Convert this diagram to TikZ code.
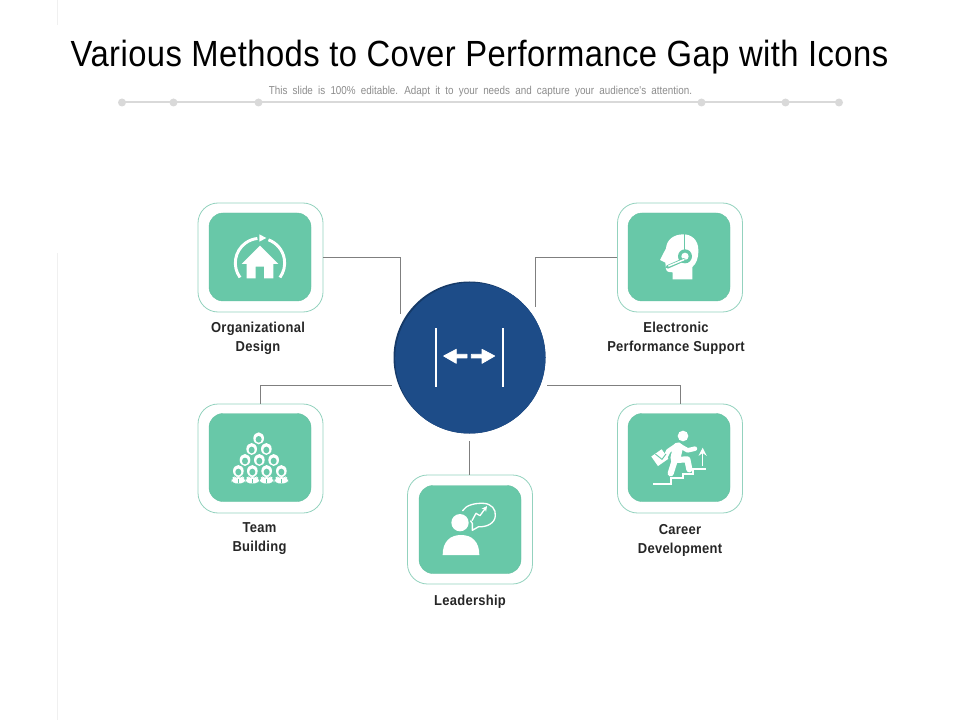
\documentclass[tikz,border=0pt]{standalone}
\usepackage{fontspec}
\setmainfont{Liberation Sans}
\newfontfamily\titlefont[FakeStretch=0.90,LetterSpace=1.2]{Liberation Sans}
\newfontfamily\subfont[FakeStretch=0.86,WordSpace=1.9]{Liberation Sans}
\newfontfamily\labelfont[FakeStretch=0.90,LetterSpace=2]{Liberation Sans}
\usetikzlibrary{arrows.meta}
\definecolor{mint}{HTML}{68C8A8}
\definecolor{mintedge}{HTML}{93D2BE}
\definecolor{navy}{HTML}{1D4C88}
\definecolor{navydark}{HTML}{163A68}
\definecolor{wire}{HTML}{7F7F7F}
\definecolor{rail}{HTML}{D9D9D9}
\definecolor{labelink}{HTML}{262626}
\tikzset{
  outerbox/.style={draw=mintedge,line width=0.6pt,fill=white,rounded corners=15pt,minimum width=93.75pt,minimum height=81.75pt,inner sep=0pt},
  innerbox/.style={draw=mint!96!black,line width=0.3pt,fill=mint,rounded corners=10.5pt,minimum width=76.5pt,minimum height=66pt,inner sep=0pt},
  itemlabel/.style={font=\labelfont\bfseries\fontsize{10.8pt}{14.25pt}\selectfont,text=labelink,align=center,inner sep=0pt},
  wireline/.style={draw=wire,line width=0.6pt},
  raildot/.style={circle,fill=rail,minimum size=6pt,inner sep=0pt},
  iconline/.style={draw=white,line cap=round,line join=round},
}
\begin{document}
\begin{tikzpicture}[x=0.75pt,y=-0.75pt]
\useasboundingbox (0,0) rectangle (960,720);
% faint page rules
\draw[draw=black!6,line width=0.75pt] (57,0) -- (57,25);
\draw[draw=black!6,line width=0.75pt] (57,253) -- (57,720);
% title
\node[font=\titlefont\fontsize{27.3pt}{30pt}\selectfont,text=black,inner sep=0pt] (title) at (479.5,57) {Various Methods to Cover Performance Gap with Icons};
\node[font=\subfont\fontsize{8.6pt}{10pt}\selectfont,text=black!45,inner sep=0pt] (subtitle) at (480.5,92) {This slide is 100\% editable. Adapt it to your needs and capture your audience's attention.};
% rail
\foreach \n/\x in {r1/122,r2/173.5,r3/258.5,r4/701.5,r5/785.5,r6/839}{\node[raildot] (\n) at (\x,102.5) {};}
\draw[rail,line width=1.5pt] (r1.center) -- (r2.center) -- (r3.center) -- (r4.center) -- (r5.center) -- (r6.center);
% free ends of connectors
\coordinate (e1) at (400,314);
\coordinate (e2) at (535.5,307);
\coordinate (e3) at (392,385);
\coordinate (e4) at (547,385);
\coordinate (e5) at (469.5,441);
% boxes
\node[outerbox] (o1) at (260.5,257.5) {};
\node[innerbox] (i1) at (260,257) {};
\node[outerbox] (o2) at (680,257.5) {};
\node[innerbox] (i2) at (679,257) {};
\node[outerbox] (o3) at (260.5,458.5) {};
\node[innerbox] (i3) at (260,457.5) {};
\node[outerbox] (o4) at (680,458.5) {};
\node[innerbox] (i4) at (679,457.5) {};
\node[outerbox] (o5) at (470,529.5) {};
\node[innerbox] (i5) at (470,529.5) {};
% connectors
\draw[wireline] (o1.east) -| (e1);
\draw[wireline] (o2.west) -| (e2);
\draw[wireline] (o3.north) |- (e3);
\draw[wireline] (o4.north) |- (e4);
\draw[wireline] (e5) -- (e5 |- o5.north);
% hub
\node[circle,fill=navydark,minimum size=114pt,inner sep=0pt] (hub) at (469.5,357.5) {};
\begin{scope}
  \clip (469.5,357.5) circle (76);
  \fill[navy] (471.2,358.7) circle (76);
\end{scope}
\begin{scope}[shift={(385,275)},scale=1/3]
  \fill[white] (151,158) rectangle (157,335);
  \fill[white] (350,158) rectangle (356,335);
  \filldraw[white,line width=0.6pt,line join=round] (176,243) -- (214,223) -- (214,238) -- (246,238) -- (246,249) -- (214,249) -- (214,265) -- cycle;
  \filldraw[white,line width=0.6pt,line join=round] (329,243) -- (291,223) -- (291,238) -- (259,238) -- (259,249) -- (291,249) -- (291,265) -- cycle;
\end{scope}
% house icon
\begin{scope}[shift={(190,195)},scale=1/3]
  \draw[iconline,line width=2.2pt,line cap=butt] (150.1,247.5) arc[start angle=144,end angle=264,radius=74];
  \draw[iconline,line width=2.2pt,line cap=butt] (235.3,134.5) arc[start angle=290,end angle=396,radius=74];
  \fill[white] (208,118) -- (208,140) -- (229,129) -- cycle;
  \fill[white] (210,152) -- (265,207) -- (250,207) -- (250,250) -- (222,250) -- (222,215) -- (197,215) -- (197,250) -- (170,250) -- (170,207) -- (155,207) -- cycle;
\end{scope}
% headset icon
\begin{scope}[shift={(530,195)},scale=1/3]
  \fill[white] (460,118) .. controls (430,118) and (410,135) .. (408,160) -- (390,195) -- (406,203) -- (408,222) .. controls (410,232) and (420,232) .. (428,232) -- (428,253) -- (487,253) -- (487,216) .. controls (500,205) and (505,190) .. (505,165) .. controls (505,135) and (485,118) .. (460,118) -- cycle;
  \draw[mint,line width=1.2pt] (464,116) -- (464,168);
  \fill[mint] (465,184) circle (21);
  \fill[white] (465,184) circle (11);
  \draw[mint,line width=2.6pt,line cap=round] (412,216) -- (462,194);
  \draw[white,line width=1.1pt,line cap=round] (416,213) -- (462,194);
\end{scope}
% team icon
\begin{scope}[shift={(190,380)},scale=1/3]
  \foreach \x/\y in {206/175,185/207,229/207,165/240,208/240,251/240,145/273,187/273,230/273,274/273}{
    \fill[white] (\x,\y) ellipse (16 and 18);
    \fill[mint] (\x,{\y+3}) ellipse (9 and 10);
  }
  \foreach \x in {145,187,230,274}{
    \fill[white,rounded corners=3pt] (\x-20,310) -- (\x-20,295) -- (\x-9,287) -- (\x,295) -- (\x+9,287) -- (\x+20,295) -- (\x+20,310) -- cycle;
    \draw[mint,line width=0.3pt] (\x,298) -- (\x,310);
  }
\end{scope}
% career icon
\begin{scope}[shift={(600,380)},scale=1/3]
  \fill[white] (249,168) circle (16);
  \draw[iconline,line width=7.5pt] (234,202) -- (226,236);
  \draw[iconline,line width=3.4pt] (236,196) -- (263,211) -- (285,206);
  \draw[iconline,line width=3.4pt] (230,196) -- (205,213) -- (196,232);
  \draw[iconline,line width=4.6pt] (224,242) -- (212,280);
  \draw[iconline,line width=4.6pt] (228,240) -- (262,238) -- (268,268);
  \fill[white,rotate around={35:(180,232)}] (160,215) rectangle (198,250);
  \draw[mint,line width=0.7pt] (166,222) -- (186,238) -- (198,222);
  \draw[iconline,line width=1.5pt,line cap=butt,line join=miter] (160,313) -- (213,313) -- (213,295) -- (248,295) -- (248,281) -- (280,281) -- (280,266) -- (318,266);
  \draw[white,line width=1.2pt,-{Stealth[length=6pt,width=6pt]}] (308,258) -- (308,203);
\end{scope}
% leadership icon
\begin{scope}[shift={(400,440)},scale=1/3]
  \fill[white] (180,248) circle (26);
  \fill[white] (128,345) .. controls (128,305) and (150,285) .. (183,285) .. controls (216,285) and (238,305) .. (238,345) -- cycle;
  \draw[iconline,line width=1pt] (188,212) .. controls (198,195) and (225,189) .. (250,190) .. controls (275,191) and (288,208) .. (286,228) .. controls (284,250) and (260,262) .. (236,260) -- (217,271) -- (217,250) -- (212,243);
  \draw[white,line width=1pt,line join=round,-{Stealth[length=4pt,width=4pt]}] (216,242) -- (228,220) -- (240,227) -- (261,198);
\end{scope}
% labels
\node[itemlabel] (l1) at (258,338) {Organizational\\Design};
\node[itemlabel] (l2) at (676,338) {Electronic\\Performance Support};
\node[itemlabel] (l3) at (259.5,539) {Team\\Building};
\node[itemlabel] (l4) at (680,540) {Career\\Development};
\node[itemlabel] (l5) at (470,601.5) {Leadership};
\end{tikzpicture}
\end{document}
